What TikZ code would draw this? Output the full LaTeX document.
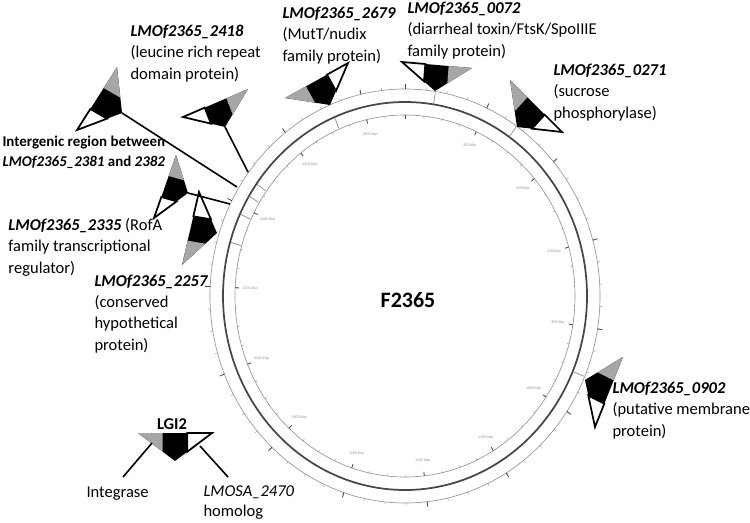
\documentclass[tikz,border=0pt]{standalone}
\usepackage{fontspec}
\setmainfont{Carlito}
\usetikzlibrary{calc}

\definecolor{wedgegray}{RGB}{166,166,166}
\definecolor{ringgray}{RGB}{150,150,150}
\definecolor{ringdark}{RGB}{70,70,70}

\tikzset{every picture/.style={line width=0.75pt}}
\tikzset{
  genelabel/.style={anchor=base west, align=left, inner sep=0pt, font=\fontsize{12.4}{15.8}\selectfont},
  igrlabel/.style={anchor=base west, align=left, inner sep=0pt, font=\fontsize{11.2}{15}\selectfont\bfseries},
  kbplabel/.style={inner sep=0pt, text=ringgray, font=\fontsize{3}{3.5}\selectfont},
  ring/.style={draw=ringgray, line width=0.5pt},
  darkring/.style={draw=ringdark, line width=1.3pt},
  minortick/.style={draw=ringgray, line width=0.35pt},
  majortick/.style={draw=ringdark, line width=0.6pt},
  genetick/.style={draw=ringgray, line width=0.6pt},
  connector/.style={line width=1.2pt},
}

% wedge: #1 apex, #2 gray tip, #3 white tip
\newcommand{\genewedge}[3]{%
  \fill[black] (#1) -- (#2) -- (#3) -- cycle;
  \fill[wedgegray] (#2) -- ($(#2)!1/3!(#3)$) -- ($(#2)!2/3!(#1)$) -- cycle;
  \draw[fill=white, line width=1.3pt] (#3) -- ($(#3)!1/3!(#2)$) -- ($(#3)!2/3!(#1)$) -- cycle;
}

\begin{document}
\begin{tikzpicture}[x=0.75pt,y=0.75pt,yscale=-1,xscale=1]
	\useasboundingbox (0,0) rectangle (750,522);

	%Shape: Circle
	\draw [ring] (405,296) circle [x radius= 195, y radius= 207] ;
	\draw [darkring] (405,296) circle [x radius= 182, y radius= 194] ;
	\draw [ring] (405,296) circle [x radius= 170, y radius= 181] ;

	% ticks every 50 kbp, bigger every 200 kbp
	\foreach \k in {0,50,...,2900} {
		\draw [minortick] ({405+170*sin(\k*0.123924)},{296-181*cos(\k*0.123924)}) -- ({405+168*sin(\k*0.123924)},{296-179*cos(\k*0.123924)});
		\draw [minortick] ({405+195*sin(\k*0.123924)},{296-207*cos(\k*0.123924)}) -- ({405+197.5*sin(\k*0.123924)},{296-209.5*cos(\k*0.123924)});
	}
	\foreach \k in {0,200,...,2800} {
		\draw [majortick] ({405+170*sin(\k*0.123924)},{296-181*cos(\k*0.123924)}) -- ({405+166*sin(\k*0.123924)},{296-177*cos(\k*0.123924)});
		\draw [majortick] ({405+195*sin(\k*0.123924)},{296-207*cos(\k*0.123924)}) -- ({405+200*sin(\k*0.123924)},{296-212*cos(\k*0.123924)});
	}
	\foreach \k in {200,400,...,2800} {
		\node [kbplabel] (kbp\k) at ({405+155*sin(\k*0.123924)},{296-166*cos(\k*0.123924)}) {\k\ kbp};
	}

	% genes on the rings
	\foreach \a in {9,34.9,112.9} {
		\draw [genetick] ({405+183*sin(\a)},{296-195*cos(\a)}) -- ({405+194*sin(\a)},{296-206*cos(\a)});
	}
	\foreach \a in {-22.8,-54.7,-59,-65,-73.9} {
		\draw [genetick] ({405+171*sin(\a)},{296-182*cos(\a)}) -- ({405+181*sin(\a)},{296-193*cos(\a)});
	}

	%Shape: Triangle (wedges)
	\coordinate (a2679) at (330,105); \coordinate (g2679) at (285,98); \coordinate (w2679) at (348,63);
	\genewedge{a2679}{g2679}{w2679}
	\coordinate (a0072) at (435,91); \coordinate (g0072) at (472,68); \coordinate (w0072) at (402,62);
	\genewedge{a0072}{g0072}{w0072}
	\coordinate (a0271) at (517,127); \coordinate (g0271) at (510,80); \coordinate (w0271) at (562,132);
	\genewedge{a0271}{g0271}{w0271}
	\coordinate (a0902) at (585,380); \coordinate (g0902) at (623,357); \coordinate (w0902) at (595,427);
	\genewedge{a0902}{g0902}{w0902}
	\coordinate (a2418) at (225,127); \coordinate (g2418) at (248,89); \coordinate (w2418) at (183,117);
	\genewedge{a2418}{g2418}{w2418}
	\coordinate (aIGR) at (122,113); \coordinate (gIGR) at (117,67); \coordinate (wIGR) at (77,130);
	\genewedge{aIGR}{gIGR}{wIGR}
	\coordinate (a2335) at (188,193); \coordinate (g2335) at (176,155); \coordinate (w2335) at (154,218);
	\genewedge{a2335}{g2335}{w2335}
	\coordinate (a2257) at (217,233); \coordinate (g2257) at (182,265); \coordinate (w2257) at (199,192);
	\genewedge{a2257}{g2257}{w2257}
	\coordinate (aLGI) at (175,461); \coordinate (gLGI) at (138,433); \coordinate (wLGI) at (212,433);
	\genewedge{aLGI}{gLGI}{wLGI}

	%Straight Lines
	\coordinate (r2418) at (248,172);
	\coordinate (rIGR) at (237,187);
	\coordinate (r2335) at (230,204);
	\draw [connector] (a2418) -- (r2418) ;
	\draw [connector] (aIGR) -- (rIGR) ;
	\draw [connector] (a2335) -- (r2335) ;
	\coordinate (lgiL) at (152,443); \coordinate (intL) at (123,477);
	\coordinate (lgiR) at (200,446); \coordinate (homR) at (228,477);
	\draw [connector] (lgiL) -- (intL) ;
	\draw [connector] (lgiR) -- (homR) ;

	% Text Node (base = baseline of the last line)
	\node [font=\fontsize{16.5}{20}\selectfont\bfseries] (genome) at (408,300) {F2365};
	% Text Node
	\node [genelabel] (lbl2418) at (130,79) {\textbf{\textit{LMOf2365\_2418}}\\(leucine rich repeat\\domain protein)};
	% Text Node
	\node [genelabel] (lbl2679) at (282,61) {\textbf{\textit{LMOf2365\_2679}}\\(MutT/nudix\\family protein)};
	% Text Node
	\node [genelabel] (lbl0072) at (407,56) {\textbf{\textit{LMOf2365\_0072}}\\(diarrheal toxin/FtsK/SpoIIIE\\family protein)};
	% Text Node
	\node [genelabel] (lbl0271) at (553,118) {\textbf{\textit{LMOf2365\_0271}}\\(sucrose\\phosphorylase)};
	% Text Node
	\node [igrlabel] (lblIGR) at (2,166) {Intergenic region between\\\textit{LMOf2365\_2381} and \textit{2382}};
	% Text Node
	\node [genelabel] (lbl2335) at (8,273) {\textbf{\textit{LMOf2365\_2335}} (RofA\\family transcriptional\\regulator)};
	% Text Node
	\node [genelabel] (lbl2257) at (94,350) {\textbf{\textit{LMOf2365\_2257}}\\(conserved\\hypothetical\\protein)};
	% Text Node
	\node [genelabel] (lbl0902) at (612,436) {\textbf{\textit{LMOf2365\_0902}}\\(putative membrane\\protein)};
	% Text Node
	\node [font=\fontsize{12.4}{15}\selectfont\bfseries] (lgi2) at (172,424) {LGI2};
	% Text Node
	\node [genelabel] (integrase) at (86,497) {Integrase};
	% Text Node
	\node [genelabel, font=\fontsize{12.4}{14.3}\selectfont] (lmosa) at (203,516) {\textit{LMOSA\_2470}\\homolog};

\end{tikzpicture}
\end{document}
